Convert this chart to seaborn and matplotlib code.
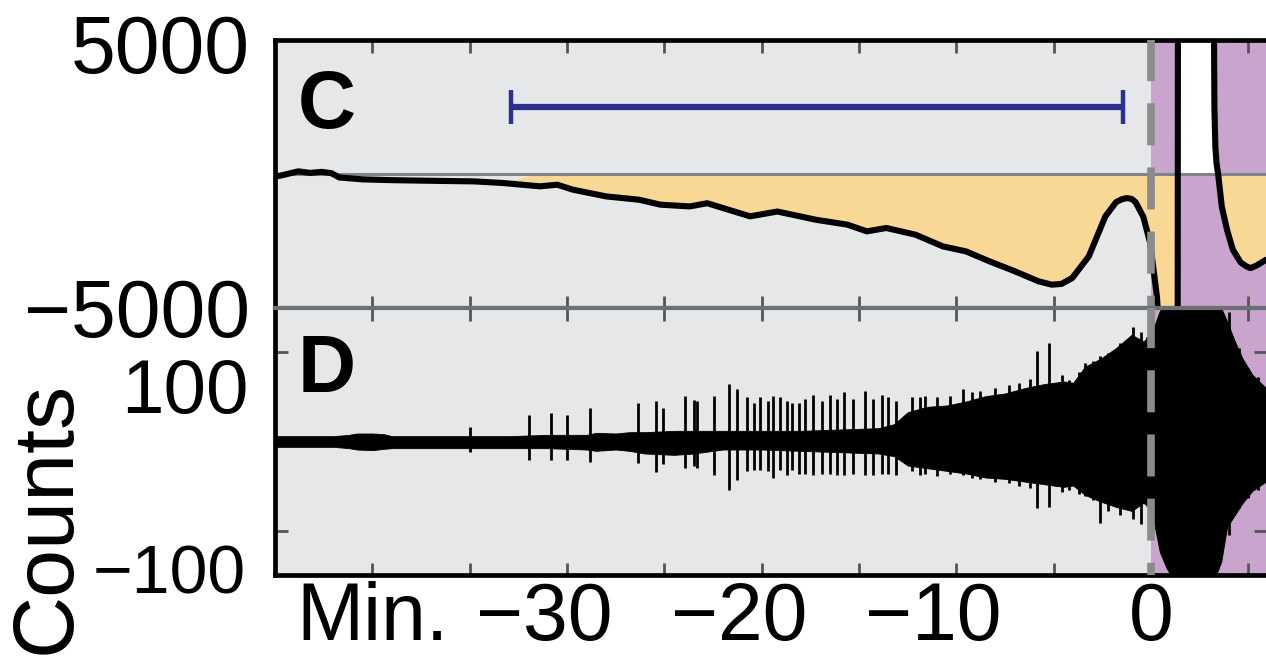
import numpy as np
import pandas as pd
import matplotlib
matplotlib.use("Agg")
import matplotlib.pyplot as plt
import matplotlib.transforms as mtransforms
import seaborn as sns

# ---------------- panel C: smoothed trace (counts) against minutes ----------------
c_minutes = [-45.0, -44.6, -43.8, -43.2, -42.6, -42.1, -41.7, -40.5, -39.0, -37.3,
             -34.8, -33.3, -31.4, -30.5, -29.7, -28.0, -26.3, -25.2, -23.7, -22.8,
             -20.6, -19.2, -17.2, -15.6, -14.6, -13.6, -12.1, -10.7, -9.5, -8.3,
             -7.0, -5.8, -5.1, -4.6, -4.05, -3.2, -2.35, -1.8, -1.5, -1.25,
             -1.0, -0.8, -0.4, -0.05, 0.3, 0.5, 1.0, 1.36, 1.38, 3.15,
             3.2, 3.25, 3.3, 3.36, 3.44, 3.55, 3.63, 3.9, 4.2, 4.6,
             4.9, 5.1, 5.4, 5.9]
c_counts = [-100, -40, 100, 40, 80, 30, -130, -200, -230, -250,
            -275, -335, -460, -400, -585, -835, -960, -1145, -1210, -1090,
            -1580, -1400, -1710, -1890, -2140, -2015, -2265, -2700, -2890, -3260,
            -3630, -4000, -4130, -4100, -3880, -3070, -1580, -1050, -940, -900,
            -930, -1050, -1600, -2570, -4590, -7000, -9000, -9000, 9000, 9000,
            9000, 2500, 1000, 400, 0, -700, -1215, -2090, -2830, -3300,
            -3450, -3510, -3420, -3200]

# interval marker drawn above the trace
bar_start, bar_end, bar_level = -32.9, -1.45, 2500

# ---------------- panel D: raw trace, envelope of the dense band ----------------
d_env_minutes = [-45.0, -42.0, -41.2, -40.8, -40.0, -39.4, -39.0, -36.0, -33.0, -31.0,
                 -29.0, -28.5, -27.5, -26.8, -26.0, -24.5, -23.5, -22.0, -20.0, -18.0,
                 -16.0, -14.0, -13.2, -12.5, -11.5, -10.5, -9.5, -8.5, -7.5, -6.5,
                 -5.5, -4.5, -4.0, -3.4, -2.6, -1.8, -1.0, -0.4, 0.0, 0.45,
                 0.8, 1.2, 3.2, 3.6, 3.9, 4.3, 4.7, 5.2, 5.9]
d_env_upper = [4, 4, 5, 6, 6, 5.5, 4, 4, 4, 5,
               5, 6.5, 6, 7, 7, 8, 8, 8, 8, 8,
               9, 10, 13, 22, 26, 27, 30, 34, 36, 40,
               43, 45, 44, 56, 62, 70, 80, 75, 80, 98,
               105, 105, 105, 100, 90, 75, 62, 50, 40]
d_env_lower = [-4, -4, -5, -6, -6.5, -5.5, -5, -5, -5, -5,
               -6, -7, -6, -7, -9, -10, -9, -6, -6, -7,
               -8, -9, -11, -18, -20, -22, -24, -27, -28, -30,
               -32, -34, -33, -40, -45, -49, -52, -46, -50, -83,
               -95, -105, -105, -90, -64, -55, -46, -37, -30]

# isolated spikes standing out of the band
spike_minutes = [-35.0, -31.95, -30.8, -30.0, -28.8, -26.37, -25.43, -25.05, -23.93, -23.5,
                 -23.33, -22.43, -21.66, -21.28, -20.77, -20.42, -20.08, -19.66, -19.40, -19.06,
                 -18.71, -18.46, -18.11, -17.77, -17.35, -16.92, -16.49, -16.15, -15.77, -15.29,
                 -14.69, -14.26, -13.84, -13.49, -13.10, -12.29, -11.87, -11.61, -11.01, -10.33,
                 -9.64, -9.21, -8.8, -8.0, -7.3, -6.8, -6.2, -5.87, -5.27, -4.6,
                 -4.2, -3.7, -3.39, -3.0, -2.62, -2.2, -1.6, -1.3, -0.95, -0.5,
                 -0.2, 4.0, 4.5, 5.0, 5.5]
spike_upper = [11, 20, 21, 20, 25, 29, 30, 25, 34, 31,
               30, 34, 43, 39, 33, 29, 33, 30, 34, 33,
               30, 29, 29, 32, 35, 30, 35, 32, 37, 32,
               38, 32, 35, 33, 30, 33, 33, 34, 33, 34,
               39, 37, 38, 40, 42, 44, 47, 68, 74, 50,
               46, 52, 59, 60, 64, 66, 74, 72, 86, 82,
               78, 97, 70, 55, 48]
spike_lower = [-8, -14, -14, -14, -15, -16, -23, -17, -20, -18,
               -20, -25, -36, -29, -22, -21, -21, -22, -27, -21,
               -25, -21, -24, -24, -25, -24, -24, -25, -25, -24,
               -25, -25, -24, -24, -25, -22, -25, -24, -26, -24,
               -25, -27, -28, -30, -31, -33, -35, -50, -49, -38,
               -36, -39, -41, -44, -61, -52, -55, -50, -58, -62,
               -48, -70, -50, -42, -36]

# ---------------- axis labelling ----------------
x_tick_values = [-40, -35, -30, -25, -20, -15, -10, -5, 0, 5]
x_tick_labels = ["Min.", "", "\u221230", "", "\u221220", "", "\u221210", "", "0", ""]
c_ytick_values = [-5000, 5000]
c_ytick_labels = ["\u22125000", "5000"]
d_ytick_values = [-100, 100]
d_ytick_labels = ["\u2212100", "100"]
d_minor_yticks = [-67, 67]
y_axis_title = "Counts"

# ---------------- styling ----------------
BG = "#e6e7e9"
PINK = "#c9a4cd"
YELLOW = "#f8d894"
DASH_GRAY = "#8b8b8b"
ZERO_GRAY = "#7d848a"
SEP_GRAY = "#6c7075"
BLUE = "#2b3190"
TICK_GRAY = "#555555"
FS = 58

sns.set_theme(style="white")
plt.rcParams["font.family"] = ["Liberation Sans", "DejaVu Sans"]
plt.rcParams["text.color"] = "black"
plt.rcParams["axes.labelcolor"] = "black"
plt.rcParams["xtick.color"] = "black"
plt.rcParams["ytick.color"] = "black"

W, H = 1266, 658
fig = plt.figure(figsize=(W / 100, H / 100), dpi=100)
left_px, right_px = 275, 1266
ax_c = fig.add_axes([left_px / W, 1 - 308 / H, (right_px - left_px) / W, (308 - 40) / H])
ax_d = fig.add_axes([left_px / W, 1 - 575 / H, (right_px - left_px) / W, (575 - 308) / H])

XMIN, XMAX = -45.0, 5.9
for ax in (ax_c, ax_d):
    ax.set_facecolor(BG)
    ax.axvspan(0, XMAX, color=PINK, lw=0, zorder=0.5)
    ax.set_xlim(XMIN, XMAX)
    ax.set_xticks(x_tick_values)
    ax.tick_params(axis="x", which="major", direction="in", top=True, bottom=True,
                   length=9, width=2, color=TICK_GRAY)
    ax.axvline(0, color=DASH_GRAY, lw=5.5, linestyle=(3.9, (5.5, 2.9)), zorder=6)
    for s in ("left", "top", "bottom"):
        ax.spines[s].set_visible(True)
    ax.spines["right"].set_visible(False)
    ax.spines["left"].set_color("black")
    ax.spines["left"].set_linewidth(3.4)

# ---- panel C ----
t = np.asarray(c_minutes, dtype=float)
v = np.asarray(c_counts, dtype=float)
ax_c.fill_between(t, v, 0, where=(v < 0) & (t >= bar_start), interpolate=True,
                  color=YELLOW, lw=0, zorder=1)
ax_c.fill_between(t, v, 0, where=(v > 0) & (t > 0), interpolate=True,
                  color="white", lw=0, zorder=1)
ax_c.axhline(0, color=ZERO_GRAY, lw=2.2, zorder=2)
df_c = pd.DataFrame({"minutes": c_minutes, "counts": c_counts})
sns.lineplot(data=df_c, x="minutes", y="counts", ax=ax_c, color="black", lw=4.4,
             estimator=None, sort=False, zorder=3)
ax_c.errorbar((bar_start + bar_end) / 2, bar_level, xerr=(bar_end - bar_start) / 2,
              fmt="none", ecolor=BLUE, elinewidth=4.5, capsize=12, capthick=3.2, zorder=4)
ax_c.set_ylim(-5000, 5000)
ax_c.set_yticks(c_ytick_values, c_ytick_labels)
ax_c.tick_params(axis="y", length=0, pad=18, labelsize=FS, labelcolor="black")
ax_c.tick_params(axis="x", labelbottom=False)
ax_c.spines["top"].set_color("black")
ax_c.spines["top"].set_linewidth(3.4)
ax_c.spines["bottom"].set_color(SEP_GRAY)
ax_c.spines["bottom"].set_linewidth(3.0)
ax_c.set_xlabel("")
ax_c.set_ylabel("")
ax_c.text(0.023, 0.672, "C", transform=ax_c.transAxes, fontsize=FS, color="black",
          fontweight="bold", ha="left", va="baseline", zorder=7)

# ---- panel D ----
ax_d.fill_between(d_env_minutes, d_env_lower, d_env_upper, color="black", lw=0.6, zorder=2)
ax_d.vlines(spike_minutes, spike_lower, spike_upper, color="black", lw=2.0, zorder=2)
ax_d.set_ylim(-100, 100)
ax_d.set_yticks(d_ytick_values, d_ytick_labels)
ax_d.set_yticks(d_minor_yticks, minor=True)
ax_d.tick_params(axis="y", which="major", length=0, pad=21, labelsize=FS, labelcolor="black")
ax_d.tick_params(axis="y", which="minor", direction="in", left=True, right=True,
                 length=9, width=2, color=TICK_GRAY)
ax_d.set_xticks(x_tick_values, x_tick_labels)
ax_d.tick_params(axis="x", labelsize=FS, pad=4, labelcolor="black")
ax_d.spines["top"].set_color(SEP_GRAY)
ax_d.spines["top"].set_linewidth(3.0)
ax_d.spines["bottom"].set_color("black")
ax_d.spines["bottom"].set_linewidth(3.4)
ax_d.set_xlabel("")
ax_d.set_ylabel("")
ax_d.text(0.023, 0.685, "D", transform=ax_d.transAxes, fontsize=FS, color="black",
          fontweight="bold", ha="left", va="baseline", zorder=7)

fig.text(48 / W, 1 - 517 / H, y_axis_title, rotation=90, fontsize=62, color="black",
         ha="center", va="center")


def nudge(label, dx_px, dy_px):
    off = mtransforms.ScaledTranslation(dx_px / 100, dy_px / 100, fig.dpi_scale_trans)
    label.set_transform(label.get_transform() + off)


# negative minute labels: digits centred on the tick, minus sign hanging left
for tick in ax_d.xaxis.get_major_ticks():
    if tick.label1.get_text().startswith("\u2212"):
        nudge(tick.label1, -23, 0)
# D axis labels: the upper one sits below the C axis label, the lower one is smaller
for tick in ax_d.yaxis.get_major_ticks():
    if tick.label1.get_text() == "100":
        tick.label1.set_fontsize(55)
        nudge(tick.label1, 3, -77)
    else:
        tick.label1.set_fontsize(49)
        nudge(tick.label1, 0, 7)
for tick in ax_c.yaxis.get_major_ticks():
    if tick.label1.get_text() == "5000":
        nudge(tick.label1, 0, -3)

fig.savefig("out.png", dpi=100)
